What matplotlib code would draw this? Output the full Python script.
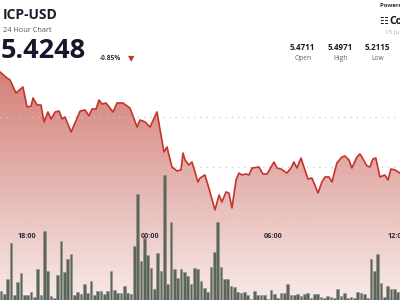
import numpy as np
import matplotlib
matplotlib.use("Agg")
import matplotlib.pyplot as plt

plt.rcParams['font.family'] = ['Open Sans', 'DejaVu Sans']

# price trace, hours relative to midnight
hours = [-7.32, -6.98, -6.83, -6.54, -6.20, -6.00, -5.80, -5.71, -5.51, -5.32,
         -5.17, -4.98, -4.83, -4.63, -4.44, -4.29, -4.15, -3.85, -3.41, -3.17,
         -2.98, -2.83, -2.63, -2.49, -2.34, -2.15, -1.80, -1.61, -1.32, -0.98,
         -0.63, -0.49, -0.24, 0.00, 0.34, 0.68, 0.83, 1.07, 1.32, 1.51,
         1.61, 1.71, 1.90, 2.05, 2.34, 2.44, 2.68, 2.83, 3.17, 3.37,
         3.51, 3.71, 3.85, 4.00, 4.20, 4.34, 4.49, 4.68, 4.83, 4.98,
         5.32, 5.51, 5.71, 6.05, 6.20, 6.39, 6.68, 6.88, 7.02, 7.17,
         7.37, 7.51, 7.71, 7.90, 8.20, 8.39, 8.54, 8.73, 8.88, 9.12,
         9.37, 9.51, 9.71, 9.85, 10.10, 10.24, 10.34, 10.59, 10.73, 10.88,
         11.02, 11.22, 11.46, 11.61, 11.76, 11.95, 12.20]
prices = [5.4711, 5.4598, 5.4561, 5.4316, 5.4429, 5.4053, 5.4071, 5.4222, 5.4090, 5.4090,
          5.3771, 5.3959, 5.3827, 5.3959, 5.3977, 5.3827, 5.3865, 5.3582, 5.3977, 5.3996,
          5.3883, 5.4015, 5.4015, 5.4184, 5.4109, 5.4128, 5.3959, 5.4128, 5.4128, 5.4034,
          5.3676, 5.3808, 5.3771, 5.3676, 5.3959, 5.3206, 5.3300, 5.2924, 5.2849, 5.2868,
          5.3187, 5.3056, 5.2962, 5.3018, 5.2642, 5.2717, 5.2774, 5.2585, 5.2115, 5.2397,
          5.2266, 5.2454, 5.2435, 5.2153, 5.2680, 5.2811, 5.2774, 5.2792, 5.2774, 5.2905,
          5.2924, 5.2792, 5.2792, 5.3018, 5.2905, 5.2886, 5.2811, 5.2905, 5.3018, 5.2905,
          5.3093, 5.2924, 5.2698, 5.2717, 5.2435, 5.2642, 5.2736, 5.2736, 5.2642, 5.2999,
          5.3112, 5.3131, 5.3056, 5.2905, 5.3112, 5.3169, 5.3112, 5.2943, 5.2924, 5.3075,
          5.3093, 5.2736, 5.2774, 5.2680, 5.2886, 5.2868, 5.2811]

volumes = [9, 6, 21, 57, 5, 18, 27, 5, 5, 8, 3, 31, 5, 69, 29, 4, 2, 25, 59, 28,
           41, 46, 5, 8, 6, 16, 7, 19, 5, 9,
           9, 6, 9, 29, 10, 7, 7, 14, 7, 6, 54, 106, 39, 62, 45, 32, 11, 47, 29, 125,
           16, 78, 31, 22, 31, 28, 24, 16, 32, 31,
           19, 12, 8, 33, 48, 78, 33, 21, 21, 14, 13, 8, 7, 8, 5, 1, 9, 5, 5, 5,
           1, 10, 6, 2, 7, 7, 16, 5, 5, 6,
           4, 6, 7, 2, 6, 6, 3, 2, 4, 3, 2, 11, 4, 7, 2, 3, 2, 8, 7, 6,
           2, 41, 29, 46, 17, 3, 14, 11, 11, 8]

tick_hours = [-6, 0, 6, 12]
tick_labels = ["18:00", "00:00", "06:00", "12:00"]
grid_prices = [5.3865, 5.2924, 5.2266]

ticker = "ICP-USD"
last_price = "5.4248"
change = "-0.85%"
stats = [("5.4711", "Open"), ("5.4971", "High"), ("5.2115", "Low")]

W, H = 400, 300
xlim = (-7.32, 12.20)
ylim = (5.0422, 5.6065)

fig = plt.figure(figsize=(4, 3), dpi=100)
fig.patch.set_facecolor("white")

ax = fig.add_axes([0, 0, 1, 1])
ax.set_xlim(*xlim)
ax.set_ylim(*ylim)
ax.axis("off")

# gradient fill under the price line
alpha = np.clip(0.92 - np.linspace(0, 1, 300) * 0.80, 0, 1)
grad = np.zeros((300, 1, 4))
grad[:, 0, 0] = 195 / 255
grad[:, 0, 1] = 80 / 255
grad[:, 0, 2] = 70 / 255
grad[:, 0, 3] = alpha
img = ax.imshow(grad, extent=(*xlim, *ylim), aspect="auto", origin="upper", zorder=1)
poly = ax.fill_between(hours, prices, ylim[0], color="none", lw=0)
img.set_clip_path(poly.get_paths()[0], transform=ax.transData)

for g in grid_prices:
    ax.axhline(g, color="#c9c9c9", lw=0.9, ls=(0, (1, 4)), zorder=2)

# volume bars
axv = fig.add_axes([0, 0, 1, 1])
axv.patch.set_alpha(0)
axv.bar(range(len(volumes)), volumes, width=0.8, color="#5d655b",
        edgecolor="#8c9389", linewidth=0.4)
axv.set_xlim(-0.3, len(volumes) - 0.3)
axv.set_ylim(0, 300)
axv.axis("off")

# price line on top
axl = fig.add_axes([0, 0, 1, 1], sharex=ax, sharey=ax)
axl.patch.set_alpha(0)
axl.plot(hours, prices, color="#c4342a", lw=1.2, solid_joinstyle="round")
axl.axis("off")

# time labels
for h, lab in zip(tick_hours, tick_labels):
    x = 150 + 20.55 * h
    fig.text(x / W, 1 - 224 / H, "-", ha="center", va="center", fontsize=4, color="#999999")
    fig.text(x / W, 1 - 236 / H, lab, ha="center", va="center", fontsize=5.2,
             fontweight="bold", color="#2a2c3a")

# header texts
def pt(x, y):
    return x / W, 1 - y / H

fig.text(*pt(3, 15), ticker, fontsize=10, fontweight="bold", color="#1b1c2c", va="center")
fig.text(*pt(3, 30), "24 Hour Chart", fontsize=5.3, color="#555555", va="center")
fig.text(*pt(1, 51), last_price, fontsize=19.5, fontweight="bold", color="#15172a", va="center")
fig.text(*pt(100, 59), change, fontsize=4.8, fontweight="bold", color="#333333", va="center")
fig.text(*pt(131, 59), "\u25bc", fontsize=6, color="#c4342a", va="center", ha="center",
         family="DejaVu Sans")

for (val, lab), cx in zip(stats, [302, 340, 377]):
    fig.text(*pt(cx, 48), val, fontsize=5.8, fontweight="bold", color="#1b1c2c",
             ha="center", va="center")
    fig.text(*pt(cx + 1, 59), lab, fontsize=4.8, color="#666666", ha="center", va="center")

fig.text(*pt(380, 6), "Powered by", fontsize=4.3, fontweight="bold", color="#333333", va="center")
fig.text(*pt(379, 21), "\u2637", fontsize=7, color="#111111", va="center", family="DejaVu Sans")
fig.text(*pt(389, 21), "CoinDesk", fontsize=7.5, fontweight="bold", color="#111111", va="center")
fig.text(*pt(385, 32), "15 Jun 2025", fontsize=4.5, color="#aaaaaa", va="center")

fig.savefig("out.png", dpi=100)
